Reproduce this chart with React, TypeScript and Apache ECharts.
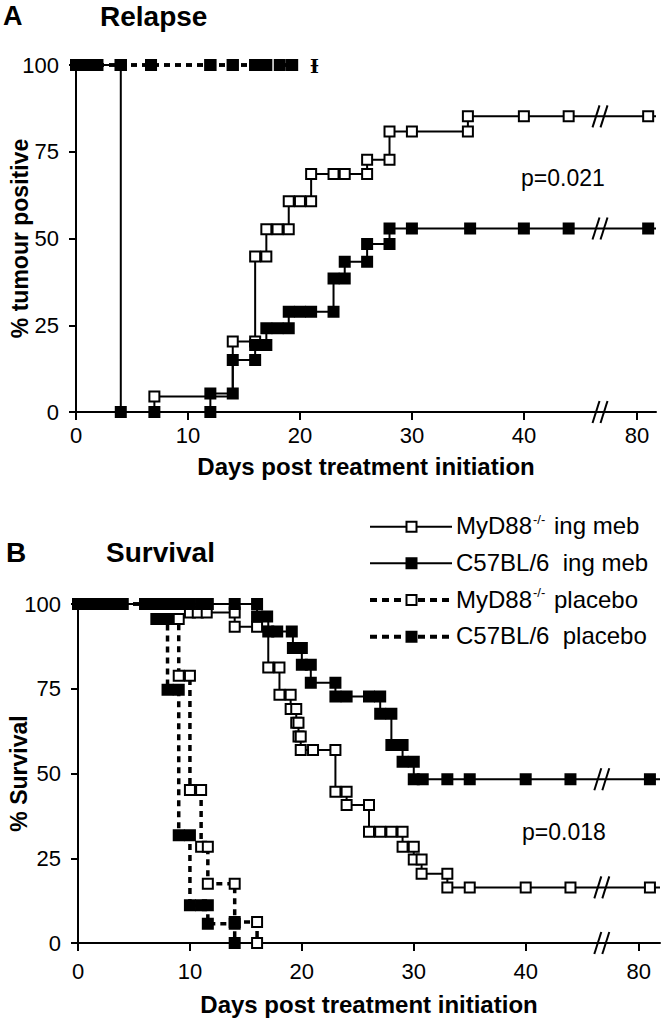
import React, { useEffect, useRef } from 'react';
import * as echarts from 'echarts';

// ---------- data (days, value %, 1 = marker shown) ----------
type P = [number, number, number];

// Panel A: Relapse (% tumour positive)
const relapseMydIng: P[] = [
  [0, 100, 0], [0, 0, 0], [7, 4.5, 1], [14, 20.3, 1], [16, 20.3, 1], [16, 44.8, 1], [17, 44.8, 1],
  [17, 52.7, 1], [18, 52.7, 1], [19, 52.7, 1], [19, 60.7, 1], [20, 60.7, 1], [21, 60.7, 1],
  [21, 68.6, 1], [23, 68.6, 1], [24, 68.6, 1], [26, 68.6, 1], [26, 72.7, 1], [28, 72.7, 1],
  [28, 80.8, 1], [30, 80.8, 1], [35, 80.8, 1], [35, 85.2, 1], [40, 85.2, 1], [44, 85.2, 1],
  [81, 85.2, 1], [81.7, 85.2, 0],
];
const relapseC57Ing: P[] = [
  [0, 100, 1], [4, 100, 1], [4, 0, 1], [7, 0, 1], [12, 0, 1], [12, 5.3, 1], [14, 5.3, 1],
  [14, 15, 1], [16, 15, 1], [16, 19.3, 1], [17, 19.3, 1], [17, 24.1, 1], [18, 24.1, 1], [19, 24.1, 1],
  [19, 28.9, 1], [20, 28.9, 1], [21, 28.9, 1], [23, 28.9, 1], [23, 38.5, 1], [24, 38.5, 1],
  [24, 43.3, 1], [26, 43.3, 1], [26, 48.4, 1], [28, 48.4, 1], [28, 52.9, 1], [30, 52.9, 1],
  [35.2, 52.9, 1], [40, 52.9, 1], [44, 52.9, 1], [81, 52.9, 1], [81.7, 52.9, 0],
];
const relapseMydPlacebo: P[] = [
  [0, 100, 1], [1.9, 100, 1], [4, 100, 1], [6.7, 100, 1], [12, 100, 1], [14, 100, 1], [16, 100, 1], [19.3, 100, 1],
];
const relapseC57Placebo: P[] = [
  [0, 100, 1], [1, 100, 1], [1.9, 100, 1], [4, 100, 1], [6.7, 100, 1], [12, 100, 1], [14, 100, 1],
  [16, 100, 1], [17, 100, 1], [18.2, 100, 1], [19.3, 100, 1],
];
const relapseDaggerDay = 21.3;

// Panel B: Survival
const survMydIng: P[] = [
  [0, 100, 0], [10, 97.5, 1], [10.7, 97.5, 1], [11.5, 97.5, 1], [14, 97.5, 1], [14, 93.3, 1], [16, 93.3, 1],
  [17, 81.3, 1], [18, 81.3, 1], [18, 73.2, 1], [19, 73.2, 1], [19, 69, 1], [19.5, 69, 1],
  [19.5, 65, 1], [19.7, 65, 1], [19.7, 60.9, 1], [19.9, 60.9, 1], [19.9, 56.9, 1], [21, 56.9, 1],
  [23, 56.9, 1], [23, 44.6, 1], [24, 44.6, 1], [24, 40.7, 1], [26, 40.7, 1], [26, 32.8, 1],
  [27, 32.8, 1], [28, 32.8, 1], [29, 32.8, 1], [29, 28.4, 1], [30, 28.4, 1], [30, 24.6, 1],
  [30.7, 24.6, 1], [30.7, 20.4, 1], [33, 20.4, 1], [33, 16.4, 1], [35, 16.4, 1], [40, 16.4, 1],
  [44, 16.4, 1], [81, 16.4, 1], [81.9, 16.4, 0],
];
const survC57Ing: P[] = [
  [0, 100, 1], [1, 100, 1], [2, 100, 1], [3, 100, 1], [3.8, 100, 1], [6, 100, 1], [7, 100, 1],
  [8, 100, 1], [9, 100, 1], [10, 100, 1], [11, 100, 1], [11.6, 100, 1], [14, 100, 1], [16, 100, 1],
  [16, 96.3, 1], [16.9, 96.3, 1], [17, 91.9, 1], [17.8, 91.9, 1], [19.1, 91.9, 1], [19.2, 87, 1],
  [20, 87, 1], [20, 82.1, 1], [20.8, 82.1, 1], [20.8, 76.8, 1], [23, 76.8, 1], [23, 72.7, 1],
  [24, 72.7, 1], [26, 72.7, 1], [27, 72.7, 1], [27, 67.6, 1], [28, 67.6, 1], [28, 58.4, 1],
  [29, 58.4, 1], [29, 53.5, 1], [30, 53.5, 1], [30, 48.3, 1], [30.8, 48.3, 1], [33, 48.3, 1],
  [35, 48.3, 1], [40, 48.3, 1], [44, 48.3, 1], [81, 48.3, 1], [81.9, 48.3, 0],
];
const survMydPlacebo: P[] = [
  [0, 100, 0], [9, 95.6, 1], [9, 78.8, 1], [10, 78.8, 1], [10, 45.1, 1], [11, 45.1, 1], [11, 28.4, 1],
  [11.6, 28.4, 1], [11.6, 17.5, 1], [14, 17.5, 1], [14, 6.2, 1], [16, 6.2, 1], [16, 0, 1],
];
const survC57Placebo: P[] = [
  [0, 100, 1], [2, 100, 1], [4, 100, 1], [6, 100, 1], [7, 95.6, 1], [8, 95.6, 1], [8, 74.7, 1],
  [9, 74.7, 1], [9, 31.8, 1], [10, 31.8, 1], [10, 11.1, 1], [11, 11.1, 1], [11.6, 11.1, 1],
  [11.6, 5.7, 1], [14, 5.7, 1], [14, 0, 1],
];

const tickDays = [0, 10, 20, 30, 40, 80];
const yTicks = [0, 25, 50, 75, 100];
const legendNames = ['MyD88-/- ing meb', 'C57BL/6  ing meb', 'MyD88-/- placebo', 'C57BL/6  placebo'];
const pValues = ['p=0.021', 'p=0.018'];

// ---------- axis break ----------
const DAY80_POS = 50.1; // display position of day 80 after the break
const BREAK_POS = 46.8;
const xd = (d: number) => (d >= 79 ? d - 80 + DAY80_POS : d);
const tickPos = tickDays.map(xd);

const FONT = '"Liberation Sans", Arial, sans-serif';

const defs = [
  { filled: false, dashed: false },
  { filled: true, dashed: false },
  { filled: false, dashed: true },
  { filled: true, dashed: true },
];

function mkSeries(name: string, data: P[], idx: number, grid: number) {
  const d = defs[idx];
  return {
    type: 'line',
    name,
    xAxisIndex: grid,
    yAxisIndex: grid,
    step: 'end',
    clip: false,
    silent: true,
    showAllSymbol: true,
    symbol: 'rect',
    symbolSize: 10,
    z: d.filled ? 4 : 3,
    data: data.map(([day, v, m]) => ({ value: [xd(day), v], symbol: m ? 'rect' : 'none' })),
    lineStyle: { color: '#000', width: d.dashed ? 3.5 : 2, type: d.dashed ? [6, 5] : 'solid' },
    itemStyle: { color: d.filled ? '#000' : '#fff', borderColor: '#000', borderWidth: 2 },
    emphasis: { disabled: true },
  };
}

function breakSeries(grid: number, values: number[]) {
  return {
    type: 'custom',
    xAxisIndex: grid,
    yAxisIndex: grid,
    clip: false,
    silent: true,
    z: 10,
    data: values.map((v) => [BREAK_POS, v]),
    renderItem: (_p: any, api: any) => {
      const c = api.coord([api.value(0), api.value(1)]);
      const st = { stroke: '#000', lineWidth: 2 };
      return {
        type: 'group',
        children: [
          { type: 'line', shape: { x1: c[0] - 7.5, y1: c[1] + 11, x2: c[0] - 0.5, y2: c[1] - 11 }, style: st },
          { type: 'line', shape: { x1: c[0] + 0.5, y1: c[1] + 11, x2: c[0] + 7.5, y2: c[1] - 11 }, style: st },
        ],
      };
    },
  };
}

function xAxis(grid: number, max: number, labelMargin: number, nameGap: number) {
  return {
    type: 'value',
    gridIndex: grid,
    min: 0,
    max,
    axisLine: { show: true, onZero: false, lineStyle: { color: '#000', width: 2 } },
    axisTick: { show: true, length: 8, lineStyle: { color: '#000', width: 2 }, customValues: tickPos },
    axisLabel: {
      customValues: tickPos,
      formatter: (v: number) => {
        let best = 0;
        tickPos.forEach((p, i) => { if (Math.abs(p - v) < Math.abs(tickPos[best] - v)) best = i; });
        return String(tickDays[best]);
      },
      fontSize: 22, color: '#000', fontFamily: FONT, margin: labelMargin,
    },
    splitLine: { show: false },
    name: 'Days post treatment initiation',
    nameLocation: 'middle',
    nameGap,
    nameMoveOverlap: false,
    nameTextStyle: { fontSize: 24, fontWeight: 'bold', color: '#000', fontFamily: FONT },
  };
}

function yAxis(grid: number, name: string, nameGap: number) {
  return {
    type: 'value',
    gridIndex: grid,
    min: 0,
    max: 100,
    interval: 25,
    axisLine: { show: true, lineStyle: { color: '#000', width: 2 } },
    axisTick: { show: true, length: 7, lineStyle: { color: '#000', width: 2 } },
    axisLabel: { fontSize: 22, color: '#000', fontFamily: FONT, margin: 17, customValues: yTicks },
    splitLine: { show: false },
    name,
    nameLocation: 'middle',
    nameGap,
    nameRotate: 90,
    nameMoveOverlap: false,
    nameTextStyle: { fontSize: 23, fontWeight: 'bold', color: '#000', fontFamily: FONT },
  };
}

function legendGraphics() {
  const rowsY = [526.7, 563.3, 600, 636.7];
  const out: any[] = [];
  legendNames.forEach((nm, i) => {
    const d = defs[i];
    const y = rowsY[i];
    out.push({
      type: 'line',
      shape: { x1: 370, y1: y, x2: 452, y2: y },
      style: { stroke: '#000', lineWidth: d.dashed ? 4 : 2, lineDash: d.dashed ? [7, 5] : null },
    });
    out.push({
      type: 'rect',
      shape: { x: 406.5, y: y - 5, width: 10, height: 10 },
      style: { fill: d.filled ? '#000' : '#fff', stroke: '#000', lineWidth: 2 },
    });
    const m = nm.match(/^(MyD88)(-\/-)(.*)$/);
    const text = m ? `{n|${m[1]}}{s|${m[2]}}{n|${m[3]}}` : `{n|${nm}}`;
    out.push({
      type: 'text',
      x: 456,
      y: y - 1,
      style: {
        text,
        verticalAlign: 'middle',
        fill: '#000',
        rich: {
          n: { fontSize: 24, fontFamily: FONT, fill: '#000', lineHeight: 26 },
          s: { fontSize: 13, fontFamily: FONT, fill: '#000', verticalAlign: 'top', lineHeight: 26, padding: [0, 2, 0, 1] },
        },
      },
    });
  });
  return out;
}

const textEl = (text: string, x: number, y: number, size: number, bold: boolean, family = FONT) => ({
  type: 'text',
  x,
  y,
  style: { text, fill: '#000', fontSize: size, fontWeight: bold ? 'bold' : 'normal', fontFamily: family, verticalAlign: 'middle' },
});

const lastVal = (a: P[]) => a[a.length - 1][1];

const option: any = {
  animation: false,
  backgroundColor: '#fff',
  grid: [
    { left: 76, top: 65, width: 580, height: 347, containLabel: false, outerBoundsMode: 'none' },
    { left: 78, top: 604, width: 582, height: 339, containLabel: false, outerBoundsMode: 'none' },
  ],
  xAxis: [xAxis(0, 51.8, 12, 42), xAxis(1, 52.0, 17, 49)],
  yAxis: [yAxis(0, '% tumour positive', 45), yAxis(1, '% Survival', 48)],
  series: [
    mkSeries(legendNames[2], relapseMydPlacebo, 2, 0),
    mkSeries(legendNames[0], relapseMydIng, 0, 0),
    mkSeries(legendNames[3], relapseC57Placebo, 3, 0),
    mkSeries(legendNames[1], relapseC57Ing, 1, 0),
    mkSeries(legendNames[0], survMydIng, 0, 1),
    mkSeries(legendNames[2], survMydPlacebo, 2, 1),
    mkSeries(legendNames[1], survC57Ing, 1, 1),
    mkSeries(legendNames[3], survC57Placebo, 3, 1),
    breakSeries(0, [0, lastVal(relapseMydIng), lastVal(relapseC57Ing)]),
    breakSeries(1, [0, lastVal(survMydIng), lastVal(survC57Ing)]),
    {
      type: 'custom',
      xAxisIndex: 0,
      yAxisIndex: 0,
      clip: false,
      silent: true,
      z: 10,
      data: [[xd(relapseDaggerDay), 100]],
      renderItem: (_p: any, api: any) => {
        const c = api.coord([api.value(0), api.value(1)]);
        return {
          type: 'text',
          x: c[0],
          y: c[1] + 1,
          style: { text: 'Ɨ', fill: '#000', fontSize: 19, fontWeight: 'bold', fontFamily: '"DejaVu Serif", serif', align: 'center', verticalAlign: 'middle' },
        };
      },
    },
  ],
  graphic: [
    textEl('A', 3, 16, 27, true),
    textEl('Relapse', 100, 16, 28, true),
    textEl('B', 6, 552, 28, true),
    textEl('Survival', 106, 552, 28, true),
    textEl(pValues[0], 521, 178, 23, false),
    textEl(pValues[1], 522, 832, 23, false),
    ...legendGraphics(),
  ],
};

export default function App() {
  const ref = useRef<HTMLDivElement>(null);
  useEffect(() => {
    const chart = echarts.init(ref.current as HTMLDivElement, null, { renderer: 'svg', width: 666, height: 1021 });
    chart.setOption(option);
    return () => chart.dispose();
  }, []);
  return <div ref={ref} style={{ position: 'absolute', left: 0, top: 0, width: 666, height: 1021, background: '#fff' }} />;
}
